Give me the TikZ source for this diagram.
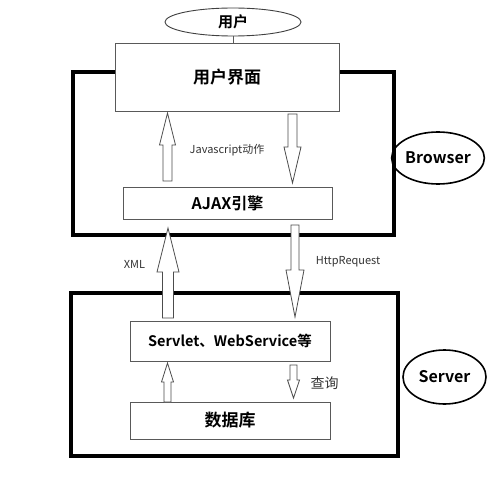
\documentclass[tikz,border=0pt]{standalone}
\usepackage{fontspec}
\setmainfont{Noto Sans CJK SC}[BoldFont={Noto Sans CJK SC Bold}]
\usetikzlibrary{shapes.geometric}
\newcommand{\blockarr}[6]{% x, tip y, tail y, shaft half, head half, signed head length
  \draw[blkarr] ({#1-#4},#3) -- ({#1-#4},{#2+#6}) -- ({#1-#5},{#2+#6}) -- (#1,#2)
    -- ({#1+#5},{#2+#6}) -- ({#1+#4},{#2+#6}) -- ({#1+#4},#3) -- cycle;}
\begin{document}
\begin{tikzpicture}[x=1pt,y=-1pt,
  outer/.style={draw=black,line width=4pt},
  inbox/.style={draw=black!65,line width=0.9pt,fill=white,inner sep=0pt},
  oval/.style={ellipse,draw=black,line width=1.6pt,inner sep=0pt},
  blkarr/.style={draw=black!70,line width=0.8pt,fill=white,line join=miter},
  lbl/.style={font=\fontsize{11}{13}\selectfont,text=black!80,inner sep=0pt},
  big/.style={font=\fontsize{16}{19}\selectfont\bfseries}]
\useasboundingbox (0,0) rectangle (500,484);
\fill[white] (0,0) rectangle (500,484);
% outer boxes
\draw[outer] (73,72) rectangle (394,235);
\draw[outer] (71,293) rectangle (398,456);
% user ellipse
\node[oval,draw=black!75,line width=0.9pt,minimum width=136pt,minimum height=28pt,font=\fontsize{15}{18}\selectfont\bfseries] (user) at (233,22) {用户};
% inner boxes
\node[inbox,minimum width=224pt,minimum height=68pt,font=\fontsize{17}{20}\selectfont\bfseries] (ui) at (227,77) {用户界面};
\draw[draw=black!65,line width=0.9pt] (user.south) -- (user.south |- ui.north);
\node[inbox,minimum width=209pt,minimum height=32pt,big] (ajax) at (227.5,203) {AJAX引擎};
\node[inbox,minimum width=200pt,minimum height=40pt,font=\fontsize{14.5}{17}\selectfont\bfseries] (servlet) at (230,341) {Servlet、WebService等};
\node[inbox,minimum width=200pt,minimum height=37pt,font=\fontsize{17}{20}\selectfont\bfseries] (db) at (230,420.5) {数据库};
% side ovals
\node[oval,minimum width=78pt,minimum height=52pt,big] (browser) at (438,158) {Browser};
\node[oval,minimum width=83pt,minimum height=54pt,big] (server) at (444.5,377) {Server};
% block arrows
\blockarr{167.5}{113}{181}{4.5}{8}{32}
\blockarr{292.5}{183}{114}{4.5}{8.5}{-36}
\blockarr{168}{228}{318}{5.5}{11}{44}
\blockarr{295}{317}{225}{4}{9}{-47}
\blockarr{167.5}{363}{402}{3.5}{6}{19}
\blockarr{293.5}{398}{365}{3.5}{6}{-18}
% labels
\node[lbl] (jsl) at (227,150) {Javascript动作};
\node[lbl] (xmll) at (134.5,264) {XML};
\node[lbl] (httpl) at (348,262) {HttpRequest};
\node[lbl,font=\fontsize{14}{16}\selectfont] (queryl) at (324.5,383) {查询};
\end{tikzpicture}
\end{document}
